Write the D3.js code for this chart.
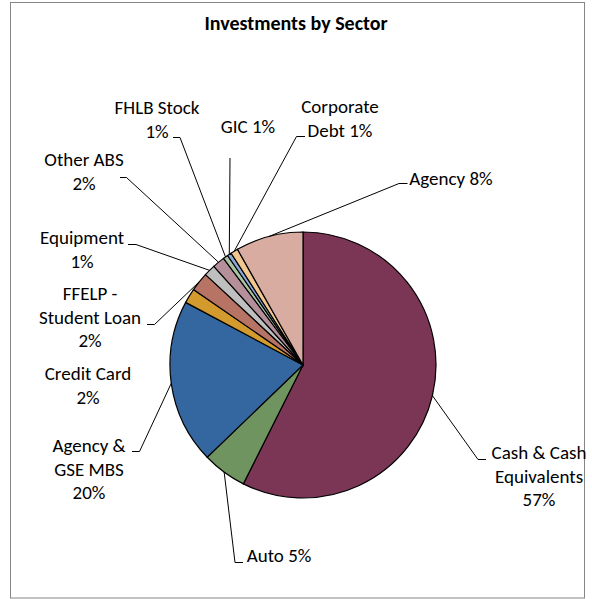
<!DOCTYPE html>
<html lang="en">
<head>
  <meta charset="UTF-8">
  <title>Investments by Sector</title>
  <style>
    body {
      margin: 0;
      overflow: hidden;
      background: #fff;
    }
    svg {
      display: block;
    }
    .slice {
      stroke: #000;
      stroke-width: 1.2px;
    }
    .leader {
      fill: none;
      stroke: #000;
      stroke-width: 1px;
    }
    .label text {
      font-family: Carlito, "Liberation Sans Narrow", "Noto Sans", sans-serif;
      font-size: 19px;
      fill: #000;
    }
    .title {
      font-family: Carlito, "Liberation Sans Narrow", "Noto Sans", sans-serif;
      font-size: 20px;
      font-weight: bold;
    }
  </style>
</head>
<body>
  <svg></svg>
  <script src="https://d3js.org/d3.v7.min.js"></script>
  <script>
    // data, clockwise from 12 o'clock
    const sectors = ["Cash & Cash Equivalents", "Auto", "Agency & GSE MBS", "Credit Card",
      "FFELP - Student Loan", "Equipment", "Other ABS", "FHLB Stock", "GIC", "Corporate Debt", "Agency"];
    const shares = [57.4, 5.4, 20.0, 1.8, 2.3, 1.4, 1.5, 0.6, 0.5, 0.9, 8.2];
    const colors = ["#7b3656", "#6f9460", "#3466a0", "#d39b2e", "#b77464", "#bfbfbf",
      "#b58f9a", "#a9c4a3", "#8da7d6", "#f2c78f", "#d9aca1"];

    // how each label is broken into lines, and whether the % sits on the last name line
    const nameLines = [["Cash & Cash", "Equivalents"], ["Auto"], ["Agency &", "GSE MBS"], ["Credit Card"],
      ["FFELP -", "Student Loan"], ["Equipment"], ["Other ABS"], ["FHLB Stock"], ["GIC"], ["Corporate", "Debt"], ["Agency"]];
    const pctInline = [false, true, false, false, false, false, false, false, true, true, true];

    // label placement: text centre x, first baseline y, leader elbow and stub end (null = no leader)
    const labelPos = [
      { x: 539, y: 459, elbow: [478, 459.5], stub: 486 },
      { x: 279, y: 562, elbow: [235, 562.5], stub: 243 },
      { x: 89,  y: 452, elbow: [139.5, 451.5], stub: 132 },
      { x: 88,  y: 380, elbow: null },
      { x: 90,  y: 300, elbow: [154.5, 324.5], stub: 147 },
      { x: 82,  y: 244, elbow: [136, 244.5], stub: 128 },
      { x: 84,  y: 166, elbow: [126.5, 177.5], stub: 120 },
      { x: 157, y: 114, elbow: [180, 137.5], stub: 173 },
      { x: 248, y: 133, elbow: [230, 158], stub: 230 },
      { x: 340, y: 113, elbow: [296.5, 136.5], stub: 305 },
      { x: 451, y: 185, elbow: [399, 183.5], stub: 407.5 }
    ];

    const width = 592;
    const height = 599;
    const lineH = 23.5;

    const svg = d3.select("svg")
      .attr("width", width)
      .attr("height", height);

    // chart frame
    svg.append("rect")
      .attr("x", 10.5)
      .attr("y", 2.5)
      .attr("width", 574)
      .attr("height", 595.5)
      .attr("fill", "#fff")
      .attr("stroke", "#868686")
      .attr("stroke-width", 1);

    svg.append("text")
      .attr("class", "title")
      .attr("x", 296)
      .attr("y", 30)
      .attr("text-anchor", "middle")
      .text("Investments by Sector");

    const cx = 303, cy = 365, r = 133;
    const g = svg.append("g").attr("transform", "translate(" + cx + "," + cy + ")");

    const rows = sectors.map((s, i) => ({ name: s, value: shares[i], i: i }));

    const pie = d3.pie()
      .sort(null)
      .value(d => d.value);

    const arc = d3.arc().innerRadius(0).outerRadius(r);
    const arcs = pie(rows);
    const total = d3.sum(shares);

    g.selectAll("path.slice")
      .data(arcs)
      .enter().append("path")
      .attr("class", "slice")
      .attr("fill", d => colors[d.data.i])
      .attr("d", arc);

    // leader lines: label stub -> elbow -> middle of slice rim
    function rimPoint(d) {
      const a = (d.startAngle + d.endAngle) / 2;
      return [cx + r * Math.sin(a), cy - r * Math.cos(a)];
    }

    svg.selectAll("path.leader")
      .data(arcs.filter(d => labelPos[d.data.i].elbow))
      .enter().append("path")
      .attr("class", "leader")
      .attr("d", d => {
        const p = labelPos[d.data.i];
        const rim = rimPoint(d);
        return d3.line()([[p.stub, p.elbow[1]], p.elbow, rim]);
      });

    // labels
    const label = svg.selectAll("g.label")
      .data(arcs)
      .enter().append("g")
      .attr("class", "label");

    label.each(function(d) {
      const i = d.data.i;
      const pct = Math.round(d.value / total * 100) + "%";
      const lines = nameLines[i].slice();
      if (pctInline[i]) lines[lines.length - 1] += " " + pct;
      else lines.push(pct);
      const t = d3.select(this).append("text")
        .attr("text-anchor", "middle");
      lines.forEach((ln, k) => {
        t.append("tspan")
          .attr("x", labelPos[i].x)
          .attr("y", labelPos[i].y + k * lineH)
          .text(ln);
      });
    });
  </script>
</body>
</html>
